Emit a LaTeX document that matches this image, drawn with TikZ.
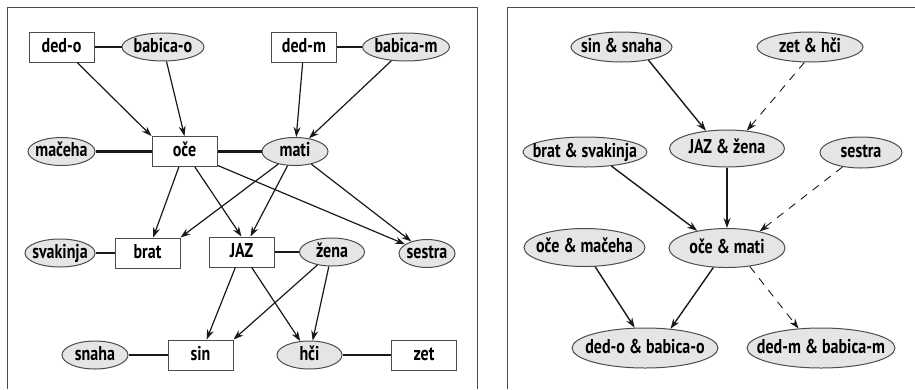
\documentclass[tikz,border=0pt]{standalone}
\usepackage{fontspec}
\setmainfont[FakeStretch=0.8]{PT Sans}
\usetikzlibrary{shapes.geometric,arrows.meta}

\begin{document}
\begin{tikzpicture}[x=1pt,y=-1pt,line width=1.2pt,
		font=\fontsize{20}{22}\selectfont\bfseries,
		ime/.style={inner sep=0pt,text height=14pt,text depth=4pt,
			execute at begin node=\hbox to 0pt\bgroup\hss,execute at end node=\hss\egroup},
		moski/.style={ime,draw=rob,line width=1pt,fill=white,minimum width=65pt,minimum height=30pt},
		zenska/.style={ime,ellipse,draw=rob,line width=1pt,fill=svetlosiva,minimum height=28pt},
		par/.style={ime,ellipse,draw=rob,line width=1pt,fill=svetlosiva},
		zakon/.style={line width=2.8pt,color=crta},
		otrok/.style={-{Stealth[length=10pt,width=7pt]},color=crta},
		crtkano/.style={line width=0.9pt,dash pattern=on 8pt off 7pt}]
		\definecolor{svetlosiva}{rgb}{0.9,0.9,0.9}
		\definecolor{rob}{rgb}{0.3,0.3,0.3}
		\definecolor{crta}{rgb}{0.1,0.1,0.1}
		\useasboundingbox (0,0) rectangle (915,389);
		
		%Okvirja
		\draw [rob,line width=1pt] (7,389) -- (7,7) -- (477,7) -- (477,389);
		\draw [rob,line width=1pt] (507,389) -- (507,7) -- (915,7);
		
		%Levo drevo
		\node[moski] (dedo) at (61.5,47) {ded-o};
		\node[zenska,minimum width=82pt] (babicao) at (163,47) {babica-o};
		\node[moski] (dedm) at (304,47) {ded-m};
		\node[zenska,minimum width=87pt] (babicam) at (406,47) {babica-m};
		\node[zenska,minimum width=67pt] (maceha) at (61.5,151.5) {mačeha};
		\node[moski] (oce) at (184.5,151.5) {oče};
		\node[zenska,minimum width=66pt] (mati) at (295,151.5) {mati};
		\node[zenska,minimum width=70pt] (svakinja) at (60,253) {svakinja};
		\node[moski] (brat) at (147.5,253) {brat};
		\node[moski] (jaz) at (241.5,252) {JAZ};
		\node[zenska,minimum width=65pt] (zena) at (332,252) {žena};
		\node[zenska,minimum width=56pt] (sestra) at (427,253.5) {sestra};
		\node[zenska,minimum width=66pt] (snaha) at (95,355) {snaha};
		\node[moski] (sin) at (200.5,355) {sin};
		\node[zenska,minimum width=65pt] (hci) at (309.5,355) {hči};
		\node[moski] (zet) at (424,355) {zet};
		
		%Zakonci
		\foreach \a/\b in {dedo/babicao,dedm/babicam,maceha/oce,oce/mati,svakinja/brat,jaz/zena,snaha/sin,hci/zet}
			\draw [zakon] (\a) -- (\b);
		
		%Starsi -> otroci
		\foreach \a/\b in {dedo/oce.north west,babicao/oce.north,dedm/mati,babicam/mati,oce/brat,oce/jaz.north,oce/sestra,mati/brat.north east,mati/jaz.60,mati/sestra,jaz/sin,jaz/hci,zena/sin.north east,zena/hci}
			\draw [otrok] (\a) -- (\b);
		
		%Desno drevo
		\node[par,minimum width=101pt,minimum height=30pt] (sinsnaha) at (621.5,47) {sin \& snaha};
		\node[par,minimum width=106pt,minimum height=30pt] (zethci) at (810,47) {zet \& hči};
		\node[par,minimum width=124pt,minimum height=30pt] (bratsvakinja) at (585,152) {brat \& svakinja};
		\node[par,minimum width=115pt,minimum height=37pt] (jazzena) at (727,148.5) {JAZ \& žena};
		\node[par,minimum width=82pt,minimum height=31pt] (sestrap) at (861,152.5) {sestra};
		\node[par,minimum width=121pt,minimum height=38pt] (ocemaceha) at (584.5,247.5) {oče \& mačeha};
		\node[par,minimum width=116pt,minimum height=39pt] (ocemati) at (727,248) {oče \& mati};
		\node[par,minimum width=146pt,minimum height=40pt] (dedobabicao) at (645,348) {ded-o \& babica-o};
		\node[par,minimum width=148pt,minimum height=40pt] (dedmbabicam) at (821,348) {ded-m \& babica-m};
		
		%Puscice
		\draw [otrok,line width=1.4pt] (sinsnaha.-26) -- (jazzena.140);
		\draw [otrok,crtkano] (zethci.-110) -- (jazzena.42);
		\draw [otrok,line width=1.4pt] (bratsvakinja.-28) -- (ocemati.150);
		\draw [otrok,line width=1.4pt] (jazzena) -- (ocemati);
		\draw [otrok,crtkano] (sestrap) -- (ocemati.27);
		\draw [otrok,line width=1.4pt] (ocemaceha.-61) -- (dedobabicao.117);
		\draw [otrok,line width=1.4pt] (ocemati.-125) -- (dedobabicao.37);
		\draw [otrok,crtkano] (ocemati.-39) -- (dedmbabicam.139);
	\end{tikzpicture}
\end{document}
